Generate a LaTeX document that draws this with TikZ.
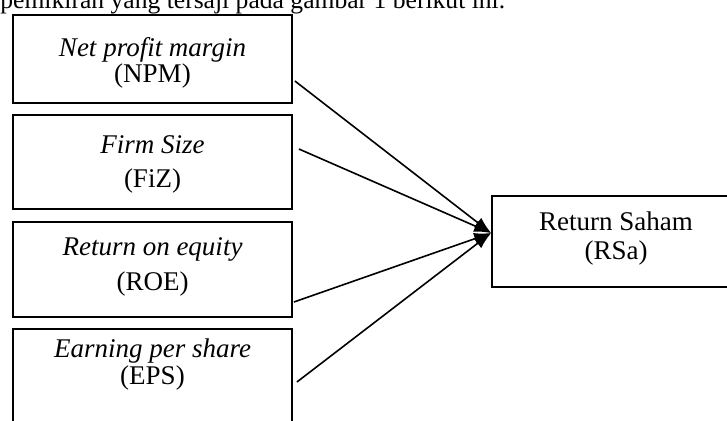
\documentclass[tikz,border=0pt]{standalone}
\usepackage{fontspec}
\setmainfont{Liberation Serif}
\usetikzlibrary{positioning,arrows.meta}

\begin{document}
\begin{tikzpicture}[x=0.5pt,y=-0.5pt]
	\tikzstyle{varbox}=[rectangle, draw, line width=0.9pt, inner sep=0pt, minimum width=139.5pt]
	\tikzstyle{vartext}=[align=center, inner sep=0pt]
	\tikzstyle{link}=[draw, line width=0.8pt, -{Latex[length=8.5pt,width=6pt]}]
	\useasboundingbox (0,0) rectangle (727,420);
	\clip (0,0) rectangle (727,420);
	\node[anchor=base west, inner sep=0pt, font=\fontsize{12.8}{14}\selectfont] (intro) at (0,8) {pemikiran yang tersaji pada gambar 1 berikut ini.};
	% variabel bebas
	\node[varbox, minimum height=44pt] (npm) at (152.5,59) {};
	\node[varbox, minimum height=47pt] (fiz) at (152.5,162) {};
	\node[varbox, minimum height=47.5pt] (roe) at (152.5,269.5) {};
	\node[varbox, minimum height=47pt] (eps) at (152.5,376) {};
	% variabel terikat
	\node[varbox, minimum width=124pt, minimum height=45.5pt] (rsa) at (616,241.5) {};
	\node[vartext, font=\fontsize{13.5}{13}\selectfont, below=11.5pt of npm.north] (npm-t) {\textit{Net profit margin}\\(NPM)};
	\node[vartext, font=\fontsize{13.5}{17}\selectfont, below=10.4pt of fiz.north] (fiz-t) {\textit{Firm Size}\\(FiZ)};
	\node[vartext, font=\fontsize{13.5}{17.5}\selectfont, below=8.3pt of roe.north] (roe-t) {\textit{Return on equity}\\(ROE)};
	\node[vartext, font=\fontsize{13.5}{13.5}\selectfont, below=5.2pt of eps.north] (eps-t) {\textit{Earning per share}\\(EPS)};
	\node[vartext, font=\fontsize{13.5}{14.5}\selectfont, below=8.3pt of rsa.north] (rsa-t) {Return Saham\\(RSa)};
	% panah
	\draw[link] ([shift={(2,22)}]npm.east) -- ([shift={(0,-8.5)}]rsa.west);
	\draw[link] ([shift={(6,-13)}]fiz.east) -- ([shift={(0,-8.5)}]rsa.west);
	\draw[link] ([shift={(1,32.5)}]roe.east) -- ([shift={(0,-8.5)}]rsa.west);
	\draw[link] ([shift={(4,6)}]eps.east) -- ([shift={(0,-8.5)}]rsa.west);
\end{tikzpicture}
\end{document}
